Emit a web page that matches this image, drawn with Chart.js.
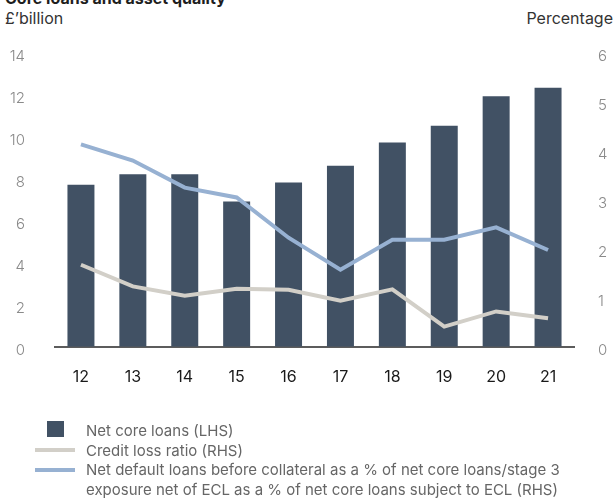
<!DOCTYPE html>
<html>
<head>
<meta charset="utf-8">
<script src="https://cdn.jsdelivr.net/npm/chart.js@4/dist/chart.umd.min.js"></script>
<style>
  html, body { margin: 0; padding: 0; background: #fff; }
  body { width: 616px; height: 500px; position: relative; overflow: hidden; font-family: Inter, "Noto Sans", sans-serif; }
  .abs { position: absolute; white-space: nowrap; }
  #title { left: 5px; top: -10px; font-size: 16px; font-weight: 700; color: #1e1e1e; line-height: 16px; }
  #lhs { left: 5px; top: 10px; font-size: 16px; color: #333; line-height: 16px; }
  #rhs { right: 3px; top: 10px; font-size: 16px; color: #333; line-height: 16px; }
  #wrap { position: absolute; left: 0; top: 0; width: 616px; height: 424px; }
  #legend-text { left: 86px; top: 421px; font-size: 15px; line-height: 19.5px; color: #666; }
  .sw { position: absolute; }
</style>
</head>
<body>
<div id="title" class="abs">Core loans and asset quality</div>
<div id="lhs" class="abs">£’billion</div>
<div id="rhs" class="abs">Percentage</div>
<div id="wrap"><canvas id="c" width="616" height="424"></canvas></div>

<div class="sw" style="left:47px;top:421px;width:17px;height:16px;background:#415164"></div>
<div class="sw" style="left:35px;top:448px;width:40px;height:4px;background:#d2cfc8"></div>
<div class="sw" style="left:35px;top:468px;width:40px;height:4px;background:#97b1d2"></div>
<div id="legend-text" class="abs">
  <span id="lg1"></span><br>
  <span id="lg2"></span><br>
  <span id="lg3a"></span><br>
  <span id="lg3b"></span>
</div>

<script>
const years = ['12', '13', '14', '15', '16', '17', '18', '19', '20', '21'];
const netCoreLoans = [7.7, 8.2, 8.2, 6.9, 7.8, 8.6, 9.7, 10.5, 11.9, 12.3];
const creditLossRatio = [1.67, 1.23, 1.04, 1.18, 1.16, 0.94, 1.17, 0.41, 0.72, 0.58];
const netDefaultLoans = [4.12, 3.79, 3.24, 3.04, 2.22, 1.57, 2.18, 2.18, 2.43, 1.97];
const leftTicks = [0, 2, 4, 6, 8, 10, 12, 14];
const rightTicks = [0, 1, 2, 3, 4, 5, 6];
const legendLabels = [
  'Net core loans (LHS)',
  'Credit loss ratio (RHS)',
  'Net default loans before collateral as a % of net core loans/stage 3',
  'exposure net of ECL as a % of net core loans subject to ECL (RHS)'
];

document.getElementById('lg1').textContent = legendLabels[0];
document.getElementById('lg2').textContent = legendLabels[1];
document.getElementById('lg3a').textContent = legendLabels[2];
document.getElementById('lg3b').textContent = legendLabels[3];

const tickFont = { family: 'Inter', size: 15, weight: 300 };

new Chart(document.getElementById('c'), {
  data: {
    labels: years,
    datasets: [
      {
        type: 'line', label: legendLabels[2] + ' ' + legendLabels[3], data: netDefaultLoans, yAxisID: 'y1',
        borderColor: '#97b1d2', borderWidth: 4, pointRadius: 0, tension: 0, order: 1
      },
      {
        type: 'line', label: legendLabels[1], data: creditLossRatio, yAxisID: 'y1',
        borderColor: '#d2cfc8', borderWidth: 4, pointRadius: 0, tension: 0, order: 2
      },
      {
        type: 'bar', label: legendLabels[0], data: netCoreLoans, yAxisID: 'y',
        backgroundColor: '#415164', barPercentage: 0.52, categoryPercentage: 1, order: 3
      }
    ]
  },
  options: {
    responsive: false,
    animation: false,
    devicePixelRatio: 1,
    layout: { padding: { top: 52, bottom: 16, left: 0, right: 0 } },
    plugins: { legend: { display: false }, tooltip: { enabled: false } },
    scales: {
      x: {
        grid: { display: false, drawTicks: false },
        border: { display: true, color: '#5c5c5c', width: 2 },
        ticks: { color: '#1a1a1a', font: { family: 'Inter', size: 16, weight: 400 }, padding: 21 }
      },
      y: {
        position: 'left', min: 0, max: 14,
        afterBuildTicks: s => { s.ticks = leftTicks.map(v => ({ value: v })); },
        afterFit: s => { s.width = 55; },
        grid: { display: false, drawTicks: false },
        border: { display: false },
        ticks: { color: '#8a8a8a', font: tickFont, padding: 30, labelOffset: 4 }
      },
      y1: {
        position: 'right', min: 0, max: 6,
        afterBuildTicks: s => { s.ticks = rightTicks.map(v => ({ value: v })); },
        afterFit: s => { s.width = 42; },
        grid: { display: false, drawTicks: false },
        border: { display: false },
        ticks: { color: '#8a8a8a', font: tickFont, padding: 24, labelOffset: 4 }
      }
    }
  }
});
</script>
</body>
</html>
